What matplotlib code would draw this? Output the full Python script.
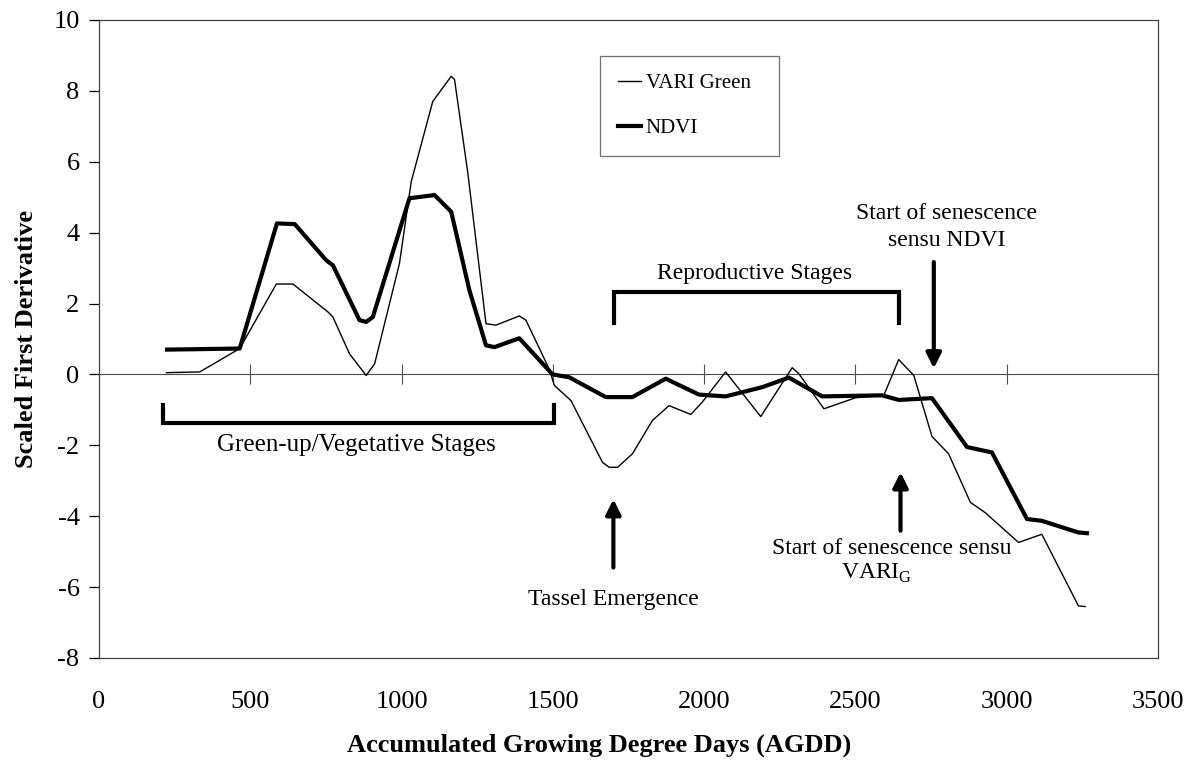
import matplotlib
matplotlib.use('Agg')
import matplotlib.pyplot as plt
from matplotlib.lines import Line2D

plt.rcParams['font.family'] = ['Liberation Serif', 'DejaVu Serif']
plt.rcParams['mathtext.fontset'] = 'custom'
plt.rcParams['mathtext.rm'] = 'Liberation Serif'
plt.rcParams['axes.unicode_minus'] = False

# traced values (AGDD, scaled first derivative)
ndvi_x = [225, 465, 588, 647, 751, 773, 861, 883, 905, 1026, 1109, 1164, 1224, 1279,
          1307, 1389, 1499, 1554, 1675, 1763, 1873, 1983, 2071, 2192, 2280, 2390, 2588,
          2643, 2753, 2869, 2951, 3067, 3116, 3237, 3265]
ndvi_y = [0.70, 0.73, 4.26, 4.24, 3.22, 3.08, 1.53, 1.48, 1.62, 4.97, 5.06, 4.59, 2.38, 0.82,
          0.77, 1.02, 0.0, -0.08, -0.64, -0.64, -0.12, -0.57, -0.62, -0.36, -0.09, -0.62, -0.59,
          -0.72, -0.67, -2.05, -2.20, -4.08, -4.13, -4.46, -4.48]

vari_x = [223, 333, 465, 586, 641, 757, 773, 828, 883, 911, 993, 1032, 1103, 1164, 1175,
          1219, 1279, 1312, 1389, 1411, 1488, 1505, 1560, 1664, 1686, 1714, 1763, 1829, 1884,
          1956, 1994, 2071, 2187, 2291, 2313, 2396, 2500, 2594, 2643, 2693, 2753, 2808, 2880,
          2929, 3039, 3116, 3237, 3259]
vari_y = [0.05, 0.07, 0.73, 2.55, 2.55, 1.76, 1.62, 0.58, -0.03, 0.30, 3.13, 5.44, 7.70, 8.41,
          8.32, 5.68, 1.43, 1.39, 1.65, 1.53, 0.15, -0.31, -0.74, -2.48, -2.62, -2.62, -2.24,
          -1.30, -0.88, -1.13, -0.78, 0.07, -1.19, 0.19, 0.02, -0.97, -0.66, -0.59, 0.42, -0.03,
          -1.75, -2.24, -3.61, -3.90, -4.74, -4.51, -6.53, -6.55]

x_ticks = [0, 500, 1000, 1500, 2000, 2500, 3000, 3500]
y_ticks = [-8, -6, -4, -2, 0, 2, 4, 6, 8, 10]

fig = plt.figure(figsize=(11.9, 7.65), dpi=100)
ax = fig.add_axes([0.0832, 0.1399, 0.8899, 0.834])

ax.plot(vari_x, vari_y, color='black', lw=1.0)
ax.plot(ndvi_x, ndvi_y, color='black', lw=3.0, solid_joinstyle='round')

ax.set_xlim(0, 3500)
ax.set_ylim(-8, 10)
ax.set_xticks(x_ticks)
ax.set_yticks(y_ticks)
ax.tick_params(axis='x', length=0, pad=24, labelsize=19)
ax.tick_params(axis='y', direction='out', length=7, width=0.9, pad=7, labelsize=19)
for sp in ax.spines.values():
    sp.set_linewidth(0.9)
    sp.set_color('0.25')

# zero line with crossing tick marks
zero = ax.secondary_xaxis(8 / 18)
zero.set_xticks(x_ticks[1:-1])
zero.tick_params(direction='inout', length=14, width=0.8, color='0.3', labelbottom=False)
zero.spines['bottom'].set_linewidth(0.8)
zero.spines['bottom'].set_color('0.3')

ax.set_xlabel('Accumulated Growing Degree Days (AGDD)', fontsize=19, fontweight='bold')
ax.set_ylabel('Scaled First Derivative', fontsize=19, fontweight='bold')
ax.xaxis.set_label_coords(0.472, -0.118)
ax.yaxis.set_label_coords(-0.058, 0.5)

# brackets
ax.plot([211, 211, 1505, 1505], [-0.85, -1.38, -1.38, -0.85], color='black', lw=3,
        solid_joinstyle='miter')
ax.plot([1703, 1703, 2643, 2643], [1.45, 2.33, 2.33, 1.45], color='black', lw=3,
        solid_joinstyle='miter')

ax.text(850, -2.0, 'Green-up/Vegetative Stages', fontsize=18, ha='center', va='center')
ax.text(2165, 2.86, 'Reproductive Stages', fontsize=17, ha='center', va='center')

arrow = dict(arrowstyle='-|>,head_length=0.9,head_width=0.45', lw=3, color='black',
             shrinkA=0, shrinkB=0)
ax.annotate('', xy=(1700, -3.52), xytext=(1700, -5.45), arrowprops=arrow)
ax.text(1700, -6.34, 'Tassel Emergence', fontsize=17, ha='center', va='center')

ax.annotate('', xy=(2759, 0.17), xytext=(2759, 3.17), arrowprops=arrow)
ax.text(2802, 4.55, 'Start of senescence', fontsize=17, ha='center', va='center')
ax.text(2802, 3.77, 'sensu NDVI', fontsize=17, ha='center', va='center')

ax.annotate('', xy=(2649, -2.76), xytext=(2649, -4.41), arrowprops=arrow)
ax.text(2620, -4.92, 'Start of senescence sensu', fontsize=17, ha='center', va='center')
ax.text(2570, -5.6, r'VARI$_\mathrm{G}$', fontsize=17, ha='center', va='center')

handles = [Line2D([], [], color='black', lw=1.0), Line2D([], [], color='black', lw=3.0)]
leg = ax.legend(handles, ['VARI Green', 'NDVI'], loc='upper left',
                bbox_to_anchor=(0.473, 0.80, 0.169, 0.1436), mode='expand',
                fontsize=15, handlelength=1.1, handletextpad=0.25, labelspacing=1.2,
                borderpad=0.85, fancybox=False, borderaxespad=0)
leg.get_frame().set_edgecolor('0.3')
leg.get_frame().set_linewidth(0.9)

fig.savefig('out.png', dpi=100)
